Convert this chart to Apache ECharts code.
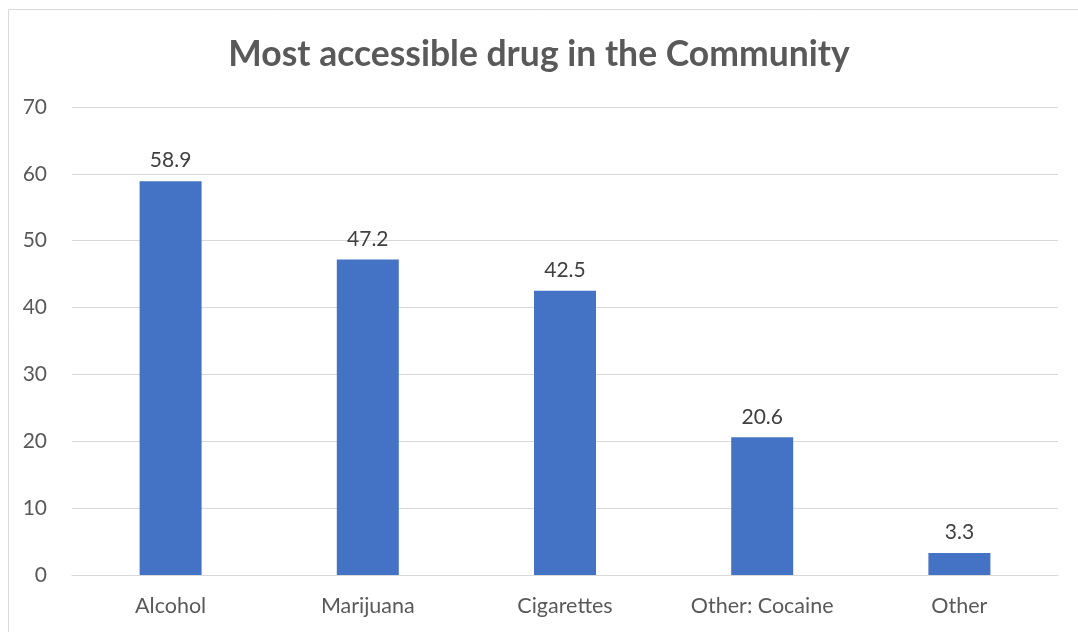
<!DOCTYPE html>
<html><head><meta charset="utf-8">
<script src="https://cdn.jsdelivr.net/npm/echarts@6/dist/echarts.min.js"></script>
<style>html,body{margin:0;padding:0;background:#fff}#c{width:1078px;height:632px}</style>
</head><body><div id="c"></div>
<script>
const titleText = 'Most accessible drug in the Community';
const categories = ['Alcohol', 'Marijuana', 'Cigarettes', 'Other: Cocaine', 'Other'];
const values = [58.9, 47.2, 42.5, 20.6, 3.3];
const yTicks = [0, 10, 20, 30, 40, 50, 60, 70];

const chart = echarts.init(document.getElementById('c'), null, {renderer: 'canvas'});
chart.setOption({
  backgroundColor: '#fff',
  animation: false,
  graphic: [{type: 'rect', shape: {x: 8.5, y: 9.5, width: 1075, height: 640}, style: {fill: 'none', stroke: '#d9d9d9', lineWidth: 1}}],
  title: {text: titleText, left: 'center', top: 32, textStyle: {fontFamily: 'Lato', fontWeight: 'bold', fontSize: 35.5, color: '#595959'}},
  grid: {left: 72, right: 20, top: 107, bottom: 57, containLabel: false},
  xAxis: {type: 'category', data: categories,
    axisLine: {lineStyle: {color: '#d9d9d9', width: 1}}, axisTick: {show: false},
    axisLabel: {fontFamily: 'Lato', fontSize: 21.5, color: '#595959', margin: 20}},
  yAxis: {type: 'value', min: yTicks[0], max: yTicks[yTicks.length - 1], interval: 10,
    axisLine: {show: false}, axisTick: {show: false},
    splitLine: {lineStyle: {color: '#d9d9d9', width: 1}},
    axisLabel: {fontFamily: 'Lato', fontSize: 21, color: '#595959', margin: 25, align: 'right'}},
  series: [{type: 'bar', data: values, barWidth: 62,
    itemStyle: {color: '#4472c4'},
    label: {show: true, position: 'top', distance: 10, fontFamily: 'Lato', fontSize: 21, color: '#404040'}}]
});
</script></body></html>
